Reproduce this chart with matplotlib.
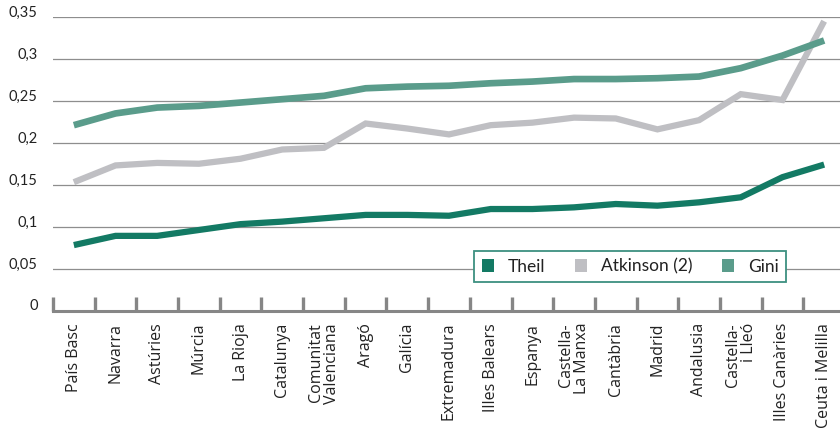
import numpy as np
import matplotlib
matplotlib.use('Agg')
import matplotlib.pyplot as plt
from matplotlib.patches import Patch

plt.rcParams['font.family'] = ['Lato', 'DejaVu Sans']

# data
regions = ['País Basc', 'Navarra', 'Astúries', 'Múrcia', 'La Rioja', 'Catalunya',
           'Comunitat\nValenciana', 'Aragó', 'Galícia', 'Extremadura', 'Illes Balears',
           'Espanya', 'Castella-\nLa Manxa', 'Cantàbria', 'Madrid', 'Andalusia',
           'Castella-\ni Lleó', 'Illes Canàries', 'Ceuta i Melilla']
theil = [0.078, 0.089, 0.089, 0.096, 0.103, 0.106, 0.110, 0.114, 0.114, 0.113,
         0.121, 0.121, 0.123, 0.127, 0.125, 0.129, 0.135, 0.159, 0.174]
atkinson = [0.153, 0.173, 0.176, 0.175, 0.181, 0.192, 0.194, 0.223, 0.217, 0.210,
            0.221, 0.224, 0.230, 0.229, 0.216, 0.227, 0.258, 0.251, 0.345]
gini = [0.221, 0.235, 0.242, 0.244, 0.248, 0.252, 0.256, 0.265, 0.267, 0.268,
        0.271, 0.273, 0.276, 0.276, 0.277, 0.279, 0.289, 0.304, 0.322]
yticks = [0, 0.05, 0.1, 0.15, 0.2, 0.25, 0.3, 0.35]
ylabels = ['0', '0,05', '0,1', '0,15', '0,2', '0,25', '0,3', '0,35']

c_theil = '#137a64'
c_atk = '#bfbfc3'
c_gini = '#5a9c8b'

fig = plt.figure(figsize=(8.4, 4.43), dpi=100)
ax = fig.add_axes([53/840, (443-310.5)/443, 792/840, 293.5/443])

x = np.arange(len(regions))
ax.plot(x, atkinson, color=c_atk, lw=4.5, solid_capstyle='butt', solid_joinstyle='miter', zorder=3)
ax.plot(x, gini, color=c_gini, lw=4.8, solid_capstyle='butt', solid_joinstyle='miter', zorder=4)
ax.plot(x, theil, color=c_theil, lw=4.5, solid_capstyle='butt', solid_joinstyle='miter', zorder=5)

ax.set_xlim(-0.5, len(regions) - 0.5)
ax.set_ylim(0, 0.35)

# grid
for v in yticks[1:]:
    ax.axhline(v, color='#8e8e8e', lw=0.9, zorder=1)

for s in ['top', 'right', 'left']:
    ax.spines[s].set_visible(False)
ax.spines['bottom'].set_color('#868686')
ax.spines['bottom'].set_linewidth(2.2)

ax.set_yticks(yticks)
ax.set_yticklabels(ylabels)
ax.tick_params(axis='y', length=0, pad=11, labelsize=10.5, labelcolor='#222222')
for lab in ax.get_yticklabels():
    lab.set_va('baseline')

ax.set_xticks(x)
ax.set_xticklabels(regions, rotation=90, ha='center', va='top', multialignment='right')
ax.tick_params(axis='x', which='major', length=0, pad=9, labelcolor='#222222')
for lab in ax.get_xticklabels():
    lab.set_fontfamily(['Open Sans', 'DejaVu Sans'])
    lab.set_fontsize(11.5)
    lab.set_linespacing(1.0)
ax.set_xticks(np.arange(len(regions) + 1) - 0.5, minor=True)
ax.tick_params(axis='x', which='minor', direction='in', length=10, width=2.4, color='#868686')

handles = [Patch(facecolor=c_theil, edgecolor='none', label='Theil'),
           Patch(facecolor=c_atk, edgecolor='none', label='Atkinson (2)'),
           Patch(facecolor=c_gini, edgecolor='none', label='Gini')]
leg = fig.legend(handles=handles, loc='center', bbox_to_anchor=(630/840, 1 - 266.5/443),
                 ncol=3, fontsize=12.5, frameon=True, fancybox=False, framealpha=1,
                 handlelength=0.7, handleheight=0.7, handletextpad=0.8,
                 columnspacing=1.7, borderpad=0.45)
leg.get_frame().set_edgecolor('#3d9080')
leg.get_frame().set_linewidth(1.3)
for t in leg.get_texts():
    t.set_color('#222222')

fig.savefig('out.png', dpi=100)
